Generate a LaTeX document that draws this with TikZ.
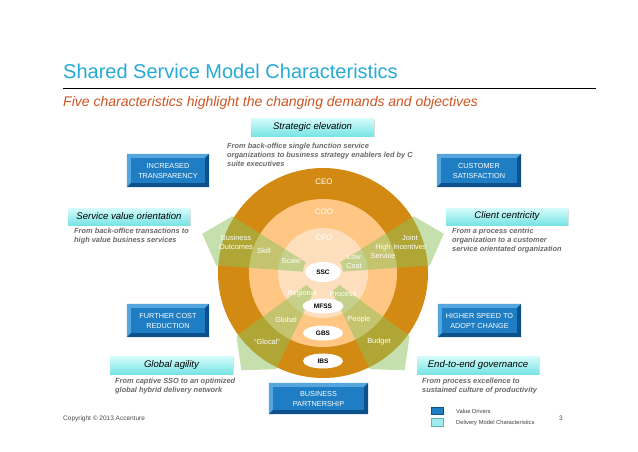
\documentclass[tikz,border=0pt]{standalone}
\usepackage{fontspec}
\setmainfont{Liberation Sans}
\usetikzlibrary{shapes.geometric,shadows}
\definecolor{titleblue}{RGB}{38,170,214}
\definecolor{subred}{RGB}{205,85,35}
\definecolor{ringA}{RGB}{211,138,18}
\definecolor{ringB}{RGB}{255,198,132}
\definecolor{ringC}{RGB}{253,223,190}
\definecolor{wedgegreen}{RGB}{140,195,90}
\definecolor{bvface}{RGB}{30,125,195}
\definecolor{bvlight}{RGB}{85,165,222}
\definecolor{bvdark}{RGB}{12,80,140}
\definecolor{cyantop}{RGB}{215,252,252}
\definecolor{cyanbot}{RGB}{120,228,228}
\definecolor{desc}{RGB}{105,105,105}
\begin{document}
\begin{tikzpicture}[x=1pt,y=-1pt,
  ringlabel/.style={text=white,font=\fontsize{8}{9}\selectfont,inner sep=0pt},
  wlabel/.style={text=white,font=\fontsize{7.4}{9}\selectfont,align=center,inner sep=0pt},
  oval/.style={ellipse,fill=white,inner sep=0pt,font=\bfseries\fontsize{6.5}{7}\selectfont},
  bluebox/.style={fill=bvface,text=white,align=center,inner sep=0pt,font=\fontsize{7.3}{10}\selectfont},
  cyanbox/.style={top color=cyantop,bottom color=cyanbot,inner sep=0pt,font=\itshape\fontsize{9.6}{11}\selectfont,
    drop shadow={opacity=0.25,shadow xshift=1pt,shadow yshift=-1.2pt}},
  desctext/.style={text=desc,align=left,inner sep=0pt,anchor=west,font=\bfseries\itshape\fontsize{7.4}{9}\selectfont},
  smalltext/.style={inner sep=0pt,anchor=west,text=black!75,font=\fontsize{5.8}{7}\selectfont}
]
\useasboundingbox (0,0) rectangle (638,451);
\fill[white] (0,0) rectangle (638,451);

% title
\node[anchor=base west,inner sep=0pt,text=titleblue,font=\fontsize{20}{24}\selectfont] (title) at (63,78) {Shared Service Model Characteristics};
\draw[line width=0.8pt] (63,88) -- (596,88);
\node[anchor=base west,inner sep=0pt,text=subred,font=\itshape\fontsize{14}{16}\selectfont] (subtitle) at (63,106) {Five characteristics highlight the changing demands and objectives};

% rings
\coordinate (c) at (323,273);
\fill[ringA] (c) circle[radius=105pt];
\fill[ringB] (c) circle[radius=74pt];
\fill[ringC] (c) circle[radius=45pt];
\begin{scope}[shift={(c)}]
  \foreach \m in {162,18,230,310}{
    \fill[wedgegreen,fill opacity=0.5] (0,0) -- ({-\m-14}:107) -- ({-\m}:127) -- ({-\m+14}:107) -- cycle;
  }
\end{scope}
\fill[ringC] (c) circle[radius=20pt];

\node[ringlabel] (ceo) at (324,182) {CEO};
\node[ringlabel] (coo) at (324,212) {COO};
\node[ringlabel] (cfo) at (324,238) {CFO};

\node[wlabel] (bo) at (236,242.5) {Business\\Outcomes};
\node[wlabel] (skill) at (264,251) {Skill};
\node[wlabel] (scale) at (291,261) {Scale};
\node[wlabel] (lc) at (354,261.5) {Low\\Cost};
\node[wlabel] (hs) at (383,251.5) {High\\Service};
\node[wlabel] (ji) at (410,242.5) {Joint\\Incentives};
\node[wlabel] (reg) at (302,294) {Regional};
\node[wlabel] (proc) at (343,294) {Process};
\node[wlabel] (glob) at (286,320) {Global};
\node[wlabel] (peop) at (359,320) {People};
\node[wlabel] (gloc) at (267,342) {“Glocal”};
\node[wlabel] (budg) at (379,342) {Budget};

\node[oval,minimum width=36pt,minimum height=20pt] (ssc) at (323,272) {SSC};
\node[oval,minimum width=41pt,minimum height=15pt] (mfss) at (323,306) {MFSS};
\node[oval,minimum width=40pt,minimum height=15pt] (gbs) at (323,333) {GBS};
\node[oval,minimum width=40pt,minimum height=15pt] (ibs) at (323,361) {IBS};

% blue value-driver boxes
\node[bluebox,minimum width=82pt,minimum height=33pt] (itb) at (168,170.5) {INCREASED\\TRANSPARENCY};
\node[bluebox,minimum width=84pt,minimum height=33pt] (csb) at (479,170.5) {CUSTOMER\\SATISFACTION};
\node[bluebox,minimum width=82pt,minimum height=33pt] (fcb) at (168,320.5) {FURTHER COST\\REDUCTION};
\node[bluebox,minimum width=83pt,minimum height=33pt] (hsb) at (479.5,320.5) {HIGHER SPEED TO\\ADOPT CHANGE};
\node[bluebox,minimum width=99pt,minimum height=31pt] (bpb) at (318.5,398.5) {BUSINESS\\PARTNERSHIP};
\foreach \n in {itb,csb,fcb,hsb,bpb}{
  \fill[bvlight] (\n.north west) -- (\n.north east) -- ([xshift=-4pt,yshift=-4pt]\n.north east) -- ([xshift=4pt,yshift=-4pt]\n.north west) -- ([xshift=4pt,yshift=4pt]\n.south west) -- (\n.south west) -- cycle;
  \fill[bvdark] (\n.south east) -- (\n.north east) -- ([xshift=-4pt,yshift=-4pt]\n.north east) -- ([xshift=-4pt,yshift=4pt]\n.south east) -- ([xshift=4pt,yshift=4pt]\n.south west) -- (\n.south west) -- cycle;
}

% cyan characteristic boxes
\node[cyanbox,minimum width=123pt,minimum height=18pt] (se) at (312.5,127) {Strategic elevation};
\node[cyanbox,minimum width=122pt,minimum height=17pt] (svo) at (129,216.5) {Service value orientation};
\node[cyanbox,minimum width=122pt,minimum height=17pt] (cc) at (507,216.5) {Client centricity};
\node[cyanbox,minimum width=123pt,minimum height=18pt] (ga) at (171.5,365) {Global agility};
\node[cyanbox,minimum width=122pt,minimum height=18pt] (eg) at (478,365) {End-to-end governance};

% descriptions
\node[desctext] (sed) at (227,155) {From back-office single function service\\organizations to business strategy enablers led by C\\suite executives};
\node[desctext] (svod) at (74,236.5) {From  back-office transactions to\\high value business services};
\node[desctext] (ccd) at (452,240.5) {From a process centric\\organization to a customer\\service orientated organization};
\node[desctext] (gad) at (115,386) {From captive SSO to an optimized\\global hybrid delivery network};
\node[desctext] (egd) at (422,386) {From process excellence to\\sustained culture of  productivity};

% legend and footer
\fill[bvface] (431,407) rectangle (443,414.5);
\draw[bvdark,line width=0.4pt] (431,407) rectangle (443,414.5);
\fill[cyanbot!70!white] (431,418.5) rectangle (443,426.5);
\draw[cyanbot!80!black,line width=0.3pt] (431,418.5) rectangle (443,426.5);
\node[smalltext] (lv) at (456,411) {Value Drivers};
\node[smalltext] (ld) at (456,423) {Delivery Model Characteristics};
\node[anchor=base west,inner sep=0pt,text=black!70,font=\fontsize{6.5}{8}\selectfont] (copy) at (63,420) {Copyright © 2013 Accenture};
\node[anchor=base west,inner sep=0pt,text=black!70,font=\fontsize{6.5}{8}\selectfont] (pg) at (559,420) {3};
\end{tikzpicture}
\end{document}
